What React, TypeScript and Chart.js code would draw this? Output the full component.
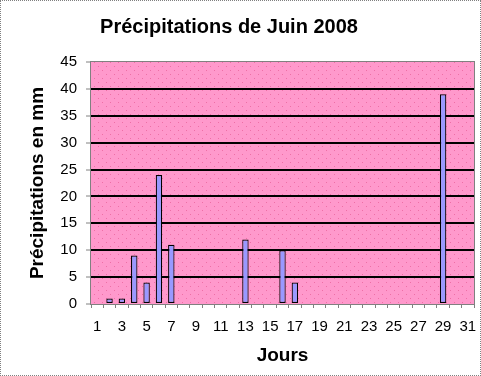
import { useEffect, useRef } from 'react';
import { Chart, registerables } from 'chart.js';

Chart.register(...registerables);

const TITLE = 'Précipitations de Juin 2008';
const X_TITLE = 'Jours';
const Y_TITLE = 'Précipitations en mm';

const days = ['1', '2', '3', '4', '5', '6', '7', '8', '9', '10', '11', '12', '13', '14', '15', '16',
  '17', '18', '19', '20', '21', '22', '23', '24', '25', '26', '27', '28', '29', '30', '31'];

const rainfall = [0, 1, 1, 9, 4, 24, 11, 0, 0, 0, 0, 0, 12, 0, 0, 10, 4, 0, 0, 0, 0, 0, 0, 0, 0, 0, 0, 0, 39, 0, 0];

const Y_MIN = 0;
const Y_MAX = 45;
const Y_STEP = 5;

const FONT = 'Arial, "Liberation Sans", sans-serif';

function makePattern(ctx: CanvasRenderingContext2D) {
  const c = document.createElement('canvas');
  c.width = 8;
  c.height = 8;
  const p = c.getContext('2d')!;
  p.fillStyle = '#FF99CC';
  p.fillRect(0, 0, 8, 8);
  p.fillStyle = '#EE6FA6';
  p.fillRect(1, 1, 1, 1);
  p.fillRect(5, 5, 1, 1);
  return ctx.createPattern(c, 'repeat');
}

const plotBackground = {
  id: 'plotBackground',
  beforeDraw(chart: any) {
    const { ctx, chartArea } = chart;
    if (!chartArea) return;
    ctx.save();
    ctx.fillStyle = makePattern(ctx) || '#FF99CC';
    ctx.fillRect(chartArea.left, chartArea.top, chartArea.right - chartArea.left, chartArea.bottom - chartArea.top);
    ctx.restore();
  },
  afterDraw(chart: any) {
    const { ctx, chartArea } = chart;
    ctx.save();
    ctx.strokeStyle = '#808080';
    ctx.lineWidth = 1;
    ctx.strokeRect(Math.round(chartArea.left) - 0.5, Math.round(chartArea.top) - 0.5,
      Math.round(chartArea.right - chartArea.left) + 1, Math.round(chartArea.bottom - chartArea.top) + 1);
    ctx.restore();
  },
};

const titlePlugin = {
  id: 'customTitle',
  afterDraw(chart: any) {
    const { ctx } = chart;
    ctx.save();
    ctx.font = 'bold 20px ' + FONT;
    ctx.fillStyle = '#000';
    ctx.textAlign = 'center';
    ctx.textBaseline = 'alphabetic';
    ctx.fillText(TITLE, 228, 31.5);
    ctx.restore();
  },
};

export default function App() {
  const ref = useRef<HTMLCanvasElement>(null);

  useEffect(() => {
    if (!ref.current) return;
    const chart = new Chart(ref.current, {
      type: 'bar',
      data: {
        labels: days,
        datasets: [
          {
            label: Y_TITLE,
            data: rainfall,
            backgroundColor: '#9999FF',
            borderColor: '#000000',
            borderWidth: (c: any) => (c.raw ? 1.2 : 0),
            borderSkipped: false,
            barPercentage: 0.52,
            categoryPercentage: 1,
          },
        ],
      },
      options: {
        responsive: false,
        animation: false,
        layout: { padding: { top: 61, right: 6, left: 0, bottom: 0 } },
        plugins: {
          legend: { display: false },
          title: { display: false },
          tooltip: { enabled: false },
        },
        scales: {
          x: {
            offset: true,
            afterFit: (s: any) => {
              s.height = 71;
              s.paddingLeft = 0;
              s.paddingRight = 0;
            },
            grid: {
              display: true,
              drawOnChartArea: false,
              drawTicks: true,
              tickLength: 4,
              tickColor: '#808080',
              offset: true,
            },
            border: { display: false },
            ticks: {
              autoSkip: false,
              maxRotation: 0,
              minRotation: 0,
              padding: 10,
              color: '#000',
              font: { family: FONT, size: 15 },
              callback: (_v: any, i: number) => (i % 2 === 0 ? days[i] : ''),
            },
            title: {
              display: true,
              text: X_TITLE,
              color: '#000',
              font: { family: FONT, size: 19, weight: 'bold' },
              padding: { top: 0, bottom: 8 },
            },
          },
          y: {
            min: Y_MIN,
            max: Y_MAX,
            afterFit: (s: any) => {
              s.width = 90;
              s.paddingTop = 0;
              s.paddingBottom = 0;
            },
            grid: {
              color: (c: any) => (c.tick && (c.tick.value === Y_MIN || c.tick.value === Y_MAX) ? 'rgba(0,0,0,0)' : '#000'),
              lineWidth: 2,
              drawTicks: true,
              tickLength: 5,
              tickColor: '#808080',
              tickWidth: 1,
            },
            border: { display: false },
            ticks: {
              stepSize: Y_STEP,
              padding: 9,
              color: '#000',
              font: { family: FONT, size: 15 },
            },
            title: {
              display: true,
              text: Y_TITLE,
              color: '#000',
              font: { family: FONT, size: 19, weight: 'bold' },
              padding: { top: 25, bottom: 0 },
            },
          },
        },
      },
      plugins: [plotBackground, titlePlugin],
    } as any);
    return () => chart.destroy();
  }, []);

  return (
    <div
      style={{
        position: 'absolute',
        left: 0,
        top: 0,
        width: 481,
        height: 376,
        boxSizing: 'border-box',
        border: '1px dotted #808080',
        background: '#fff',
      }}
    >
      <canvas ref={ref} width={479} height={374} style={{ display: 'block' }} />
    </div>
  );
}
